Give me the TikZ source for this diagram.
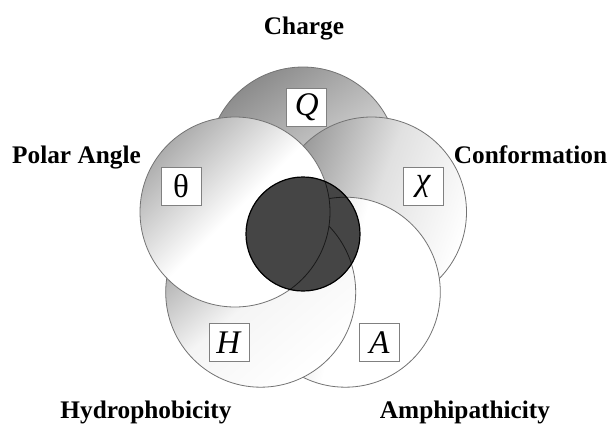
\documentclass[tikz,border=0pt]{standalone}
\usepackage{fontspec}
\setmainfont{Liberation Serif}
\usetikzlibrary{positioning}
\tikzset{
  line cap=round,
  line join=round,
  lobe/.style={draw=black!55, line width=0.8pt, bottom color=white},
  corefill/.style={fill=black!73, draw=black!90, line width=0.8pt},
  coreline/.style={draw=black, line width=1.2pt},
  symbox/.style={draw=black!50, fill=white, line width=0.7pt, minimum width=40pt, minimum height=38pt, inner sep=0pt, font=\fontsize{33}{33}\selectfont},
  title/.style={anchor=base, inner sep=0pt, font=\fontsize{25.3}{28}\selectfont\bfseries}
}

\begin{document}
\begin{tikzpicture}[x=1pt,y=-1pt]
  \useasboundingbox (0,0) rectangle (607,423);
  \coordinate (O) at (303,234);
  \coordinate (Cq) at (303,162);
  \coordinate (Cx) at (371.5,212);
  \coordinate (Ca) at (345.3,292.2);
  \coordinate (Ch) at (260.7,292.2);
  \coordinate (Ct) at (235,212);

  \shadedraw[lobe, top color=black!45, middle color=black!22, shading angle=35] (Cq) circle[radius=95pt];
  \shadedraw[lobe, top color=black!42, middle color=black!12, shading angle=70] (Cx) circle[radius=95pt];
  \shadedraw[lobe, top color=black!25, middle color=white, shading angle=75] (Ca) circle[radius=95pt];
  \shadedraw[lobe, top color=black!38, middle color=black!4, shading angle=40] (Ch) circle[radius=95pt];
  \shadedraw[lobe, top color=black!32, middle color=white, shading angle=45] (Ct) circle[radius=95pt];

  \fill[black!73] (O) circle[radius=57pt];
  \begin{scope}
    \clip (O) circle[radius=57pt];
    \foreach \c in {Cq,Cx,Ca,Ch,Ct}
      \filldraw[corefill] (\c) circle[radius=95pt];
  \end{scope}
  \draw[coreline] (O) circle[radius=57pt];

  \node[symbox] (q) at (306.7,107.5) {\textit{Q}};
  \node[symbox] (theta) at (181,186) {θ};
  \node[symbox] (chi) at (423.5,186.7) {\textit{χ}};
  \node[symbox] (h) at (229,342.5) {\textit{H}};
  \node[symbox] (a) at (379.5,342.5) {\textit{A}};

  \node[title] (charge) at (304,34) {Charge};
  \node[title] (polar) at (76.5,163) {Polar Angle};
  \node[title] (conf) at (530.5,163) {Conformation};
  \node[title] (hydro) at (146,418) {Hydrophobicity};
  \node[title] (amphi) at (465,418) {Amphipathicity};
\end{tikzpicture}
\end{document}
